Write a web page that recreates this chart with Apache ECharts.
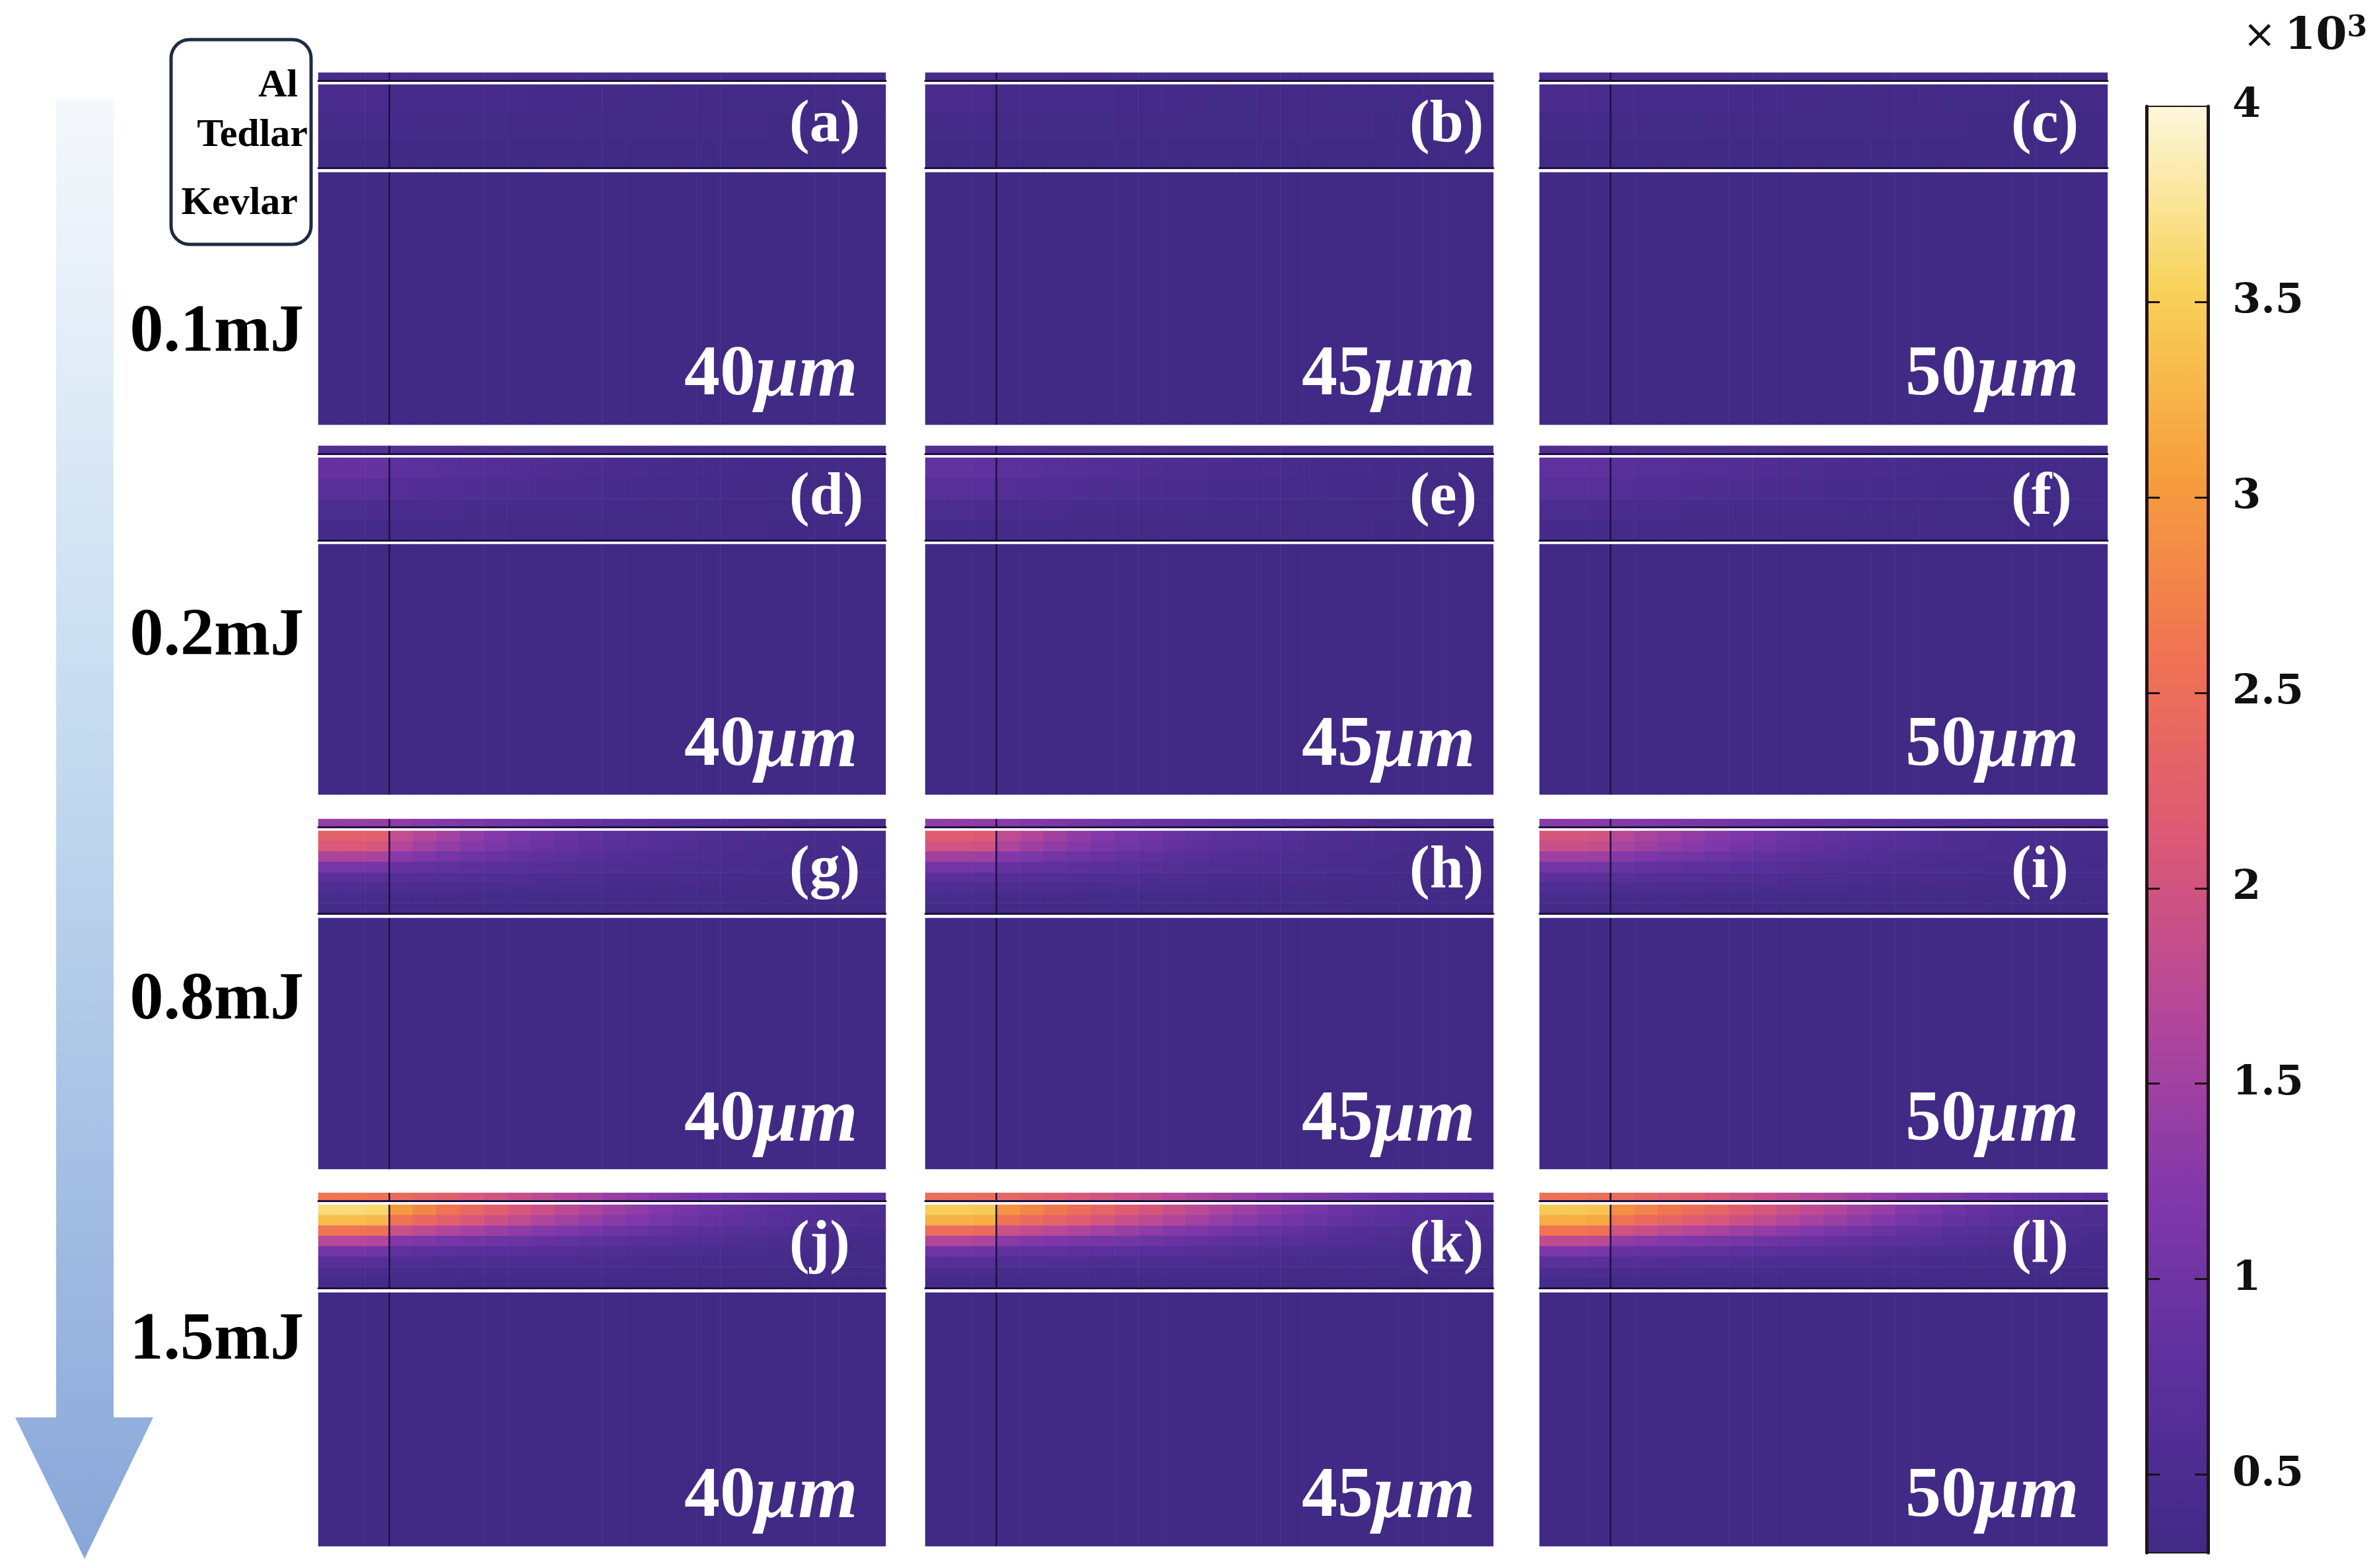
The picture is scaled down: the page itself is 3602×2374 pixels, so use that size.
<!DOCTYPE html>
<html><head><meta charset="utf-8">
<script src="https://cdn.jsdelivr.net/npm/echarts@6/dist/echarts.min.js"></script>
<style>html,body{margin:0;padding:0;background:#fff}#c{width:3602px;height:2374px}</style>
</head><body><div id="c"></div>
<script>
// ---------------- labels ----------------
const energyLabels = ['0.1mJ', '0.2mJ', '0.8mJ', '1.5mJ'];
const thicknessValues = ['40', '45', '50'];
const thicknessUnit = 'μm';
const panelLetters = ['(a)','(b)','(c)','(d)','(e)','(f)','(g)','(h)','(i)','(j)','(k)','(l)'];
const layerNames = ['Al', 'Tedlar', 'Kevlar'];
const cbMin = 0.3, cbMax = 4;               // colour scale (×10^3)
const cbTicks = [0.5, 1, 1.5, 2, 2.5, 3, 3.5];
const cbLabels = [0.5, 1, 1.5, 2, 2.5, 3, 3.5, 4];
const xCells = ['0','1','2','3','4','5','6','7','8','9','10','11','12','13','14','15','16','17','18','19','20','21','22','23'];
const spotEdge = [3];   // boundary (in cell units) of the irradiated zone, drawn as the thin dark vertical line

// ---------------- values (×10^3) ----------------
const kevlar = [0.3,0.3,0.3,0.3,0.3,0.3,0.3,0.3,0.3,0.3,0.3,0.3,0.3,0.3,0.3,0.3,0.3,0.3,0.3,0.3,0.3,0.3,0.3,0.3];

// 0.1 mJ
const al_a = [0.42,0.42,0.42,0.41,0.41,0.4,0.4,0.4,0.39,0.39,0.39,0.38,0.38,0.38,0.38,0.37,0.37,0.37,0.37,0.37,0.36,0.36,0.36,0.36];
const ted_a = [
 [0.48,0.48,0.47,0.43,0.42,0.41,0.4,0.39,0.38,0.37,0.36,0.35,0.35,0.34,0.34,0.33,0.33,0.32,0.32,0.32,0.31,0.31,0.31,0.31],
 [0.38,0.38,0.38,0.36,0.35,0.35,0.34,0.34,0.33,0.33,0.33,0.32,0.32,0.32,0.31,0.31,0.31,0.31,0.31,0.3,0.3,0.3,0.3,0.3],
 [0.3,0.3,0.3,0.3,0.3,0.3,0.3,0.3,0.3,0.3,0.3,0.3,0.3,0.3,0.3,0.3,0.3,0.3,0.3,0.3,0.3,0.3,0.3,0.3]];
const al_b = [0.41,0.41,0.41,0.4,0.4,0.4,0.39,0.39,0.39,0.38,0.38,0.38,0.38,0.37,0.37,0.37,0.37,0.37,0.36,0.36,0.36,0.36,0.36,0.36];
const ted_b = [
 [0.46,0.46,0.45,0.42,0.41,0.4,0.39,0.38,0.37,0.36,0.36,0.35,0.34,0.34,0.33,0.33,0.33,0.32,0.32,0.32,0.31,0.31,0.31,0.31],
 [0.37,0.37,0.37,0.35,0.35,0.34,0.34,0.34,0.33,0.33,0.33,0.32,0.32,0.32,0.31,0.31,0.31,0.31,0.31,0.3,0.3,0.3,0.3,0.3],
 [0.3,0.3,0.3,0.3,0.3,0.3,0.3,0.3,0.3,0.3,0.3,0.3,0.3,0.3,0.3,0.3,0.3,0.3,0.3,0.3,0.3,0.3,0.3,0.3]];
const al_c = [0.4,0.4,0.4,0.4,0.39,0.39,0.39,0.39,0.38,0.38,0.38,0.38,0.37,0.37,0.37,0.37,0.37,0.36,0.36,0.36,0.36,0.36,0.35,0.35];
const ted_c = [
 [0.45,0.45,0.44,0.41,0.4,0.39,0.38,0.38,0.37,0.36,0.36,0.35,0.34,0.34,0.33,0.33,0.33,0.32,0.32,0.32,0.31,0.31,0.31,0.31],
 [0.37,0.37,0.36,0.35,0.35,0.34,0.34,0.33,0.33,0.33,0.32,0.32,0.32,0.32,0.31,0.31,0.31,0.31,0.3,0.3,0.3,0.3,0.3,0.3],
 [0.3,0.3,0.3,0.3,0.3,0.3,0.3,0.3,0.3,0.3,0.3,0.3,0.3,0.3,0.3,0.3,0.3,0.3,0.3,0.3,0.3,0.3,0.3,0.3]];

// 0.2 mJ
const al_d = [0.62,0.62,0.61,0.6,0.58,0.56,0.54,0.52,0.5,0.48,0.46,0.45,0.44,0.43,0.42,0.41,0.4,0.39,0.38,0.38,0.37,0.37,0.36,0.36];
const ted_d = [
 [0.9,0.9,0.88,0.78,0.74,0.7,0.66,0.62,0.58,0.55,0.52,0.49,0.47,0.45,0.43,0.41,0.4,0.38,0.37,0.36,0.35,0.34,0.33,0.33],
 [0.72,0.72,0.7,0.63,0.6,0.58,0.55,0.52,0.5,0.48,0.46,0.44,0.42,0.41,0.39,0.38,0.37,0.36,0.35,0.34,0.33,0.33,0.32,0.32],
 [0.5,0.5,0.49,0.46,0.45,0.44,0.43,0.42,0.41,0.4,0.39,0.38,0.37,0.36,0.35,0.35,0.34,0.33,0.33,0.32,0.32,0.31,0.31,0.31],
 [0.36,0.36,0.36,0.35,0.35,0.34,0.34,0.34,0.33,0.33,0.33,0.32,0.32,0.32,0.32,0.31,0.31,0.31,0.31,0.3,0.3,0.3,0.3,0.3]];
const al_e = [0.58,0.58,0.57,0.56,0.55,0.53,0.52,0.5,0.49,0.47,0.46,0.45,0.44,0.43,0.42,0.41,0.4,0.39,0.39,0.38,0.37,0.37,0.36,0.36];
const ted_e = [
 [0.85,0.85,0.83,0.75,0.72,0.68,0.65,0.61,0.58,0.55,0.52,0.5,0.48,0.46,0.44,0.42,0.4,0.39,0.38,0.37,0.36,0.35,0.34,0.33],
 [0.7,0.7,0.68,0.62,0.6,0.57,0.55,0.52,0.5,0.48,0.46,0.44,0.43,0.41,0.4,0.39,0.38,0.37,0.36,0.35,0.34,0.33,0.33,0.32],
 [0.5,0.5,0.49,0.46,0.45,0.44,0.43,0.42,0.41,0.4,0.39,0.38,0.37,0.36,0.36,0.35,0.34,0.34,0.33,0.33,0.32,0.32,0.31,0.31],
 [0.36,0.36,0.36,0.35,0.35,0.34,0.34,0.34,0.33,0.33,0.33,0.32,0.32,0.32,0.32,0.31,0.31,0.31,0.31,0.3,0.3,0.3,0.3,0.3]];
const al_f = [0.55,0.55,0.55,0.54,0.53,0.52,0.51,0.5,0.49,0.48,0.47,0.46,0.45,0.44,0.43,0.42,0.41,0.4,0.4,0.39,0.38,0.38,0.37,0.37];
const ted_f = [
 [0.82,0.82,0.8,0.73,0.7,0.67,0.64,0.61,0.58,0.55,0.53,0.5,0.48,0.46,0.44,0.43,0.41,0.4,0.39,0.38,0.37,0.36,0.35,0.34],
 [0.68,0.68,0.67,0.61,0.59,0.57,0.55,0.53,0.51,0.49,0.47,0.45,0.43,0.42,0.4,0.39,0.38,0.37,0.36,0.35,0.34,0.34,0.33,0.33],
 [0.5,0.5,0.49,0.46,0.45,0.44,0.43,0.42,0.41,0.4,0.39,0.38,0.38,0.37,0.36,0.35,0.35,0.34,0.34,0.33,0.33,0.32,0.32,0.31],
 [0.37,0.37,0.37,0.36,0.35,0.35,0.35,0.34,0.34,0.34,0.33,0.33,0.33,0.32,0.32,0.32,0.31,0.31,0.31,0.31,0.3,0.3,0.3,0.3]];

// 0.8 mJ
const al_g = [1.4,1.4,1.38,1.33,1.27,1.21,1.15,1.09,1.03,0.97,0.91,0.86,0.81,0.76,0.72,0.68,0.64,0.61,0.58,0.55,0.53,0.51,0.49,0.47];
const ted_g = [
 [2.3,2.3,2.25,1.85,1.68,1.52,1.37,1.24,1.12,1.01,0.92,0.84,0.77,0.71,0.66,0.61,0.57,0.53,0.5,0.47,0.45,0.43,0.41,0.4],
 [2.1,2.1,2.05,1.65,1.5,1.37,1.25,1.14,1.03,0.94,0.86,0.79,0.73,0.67,0.62,0.58,0.54,0.51,0.48,0.46,0.43,0.41,0.4,0.38],
 [1.6,1.6,1.56,1.27,1.17,1.08,1.0,0.93,0.86,0.8,0.74,0.69,0.64,0.6,0.56,0.53,0.5,0.47,0.45,0.43,0.41,0.39,0.38,0.37],
 [1.1,1.1,1.08,0.9,0.85,0.81,0.77,0.73,0.69,0.65,0.61,0.58,0.55,0.52,0.5,0.48,0.46,0.44,0.42,0.4,0.39,0.38,0.37,0.36],
 [0.75,0.75,0.74,0.65,0.63,0.61,0.59,0.57,0.55,0.53,0.51,0.49,0.47,0.46,0.44,0.43,0.42,0.4,0.39,0.38,0.37,0.36,0.35,0.34],
 [0.55,0.55,0.54,0.5,0.49,0.48,0.47,0.46,0.45,0.44,0.43,0.42,0.41,0.4,0.39,0.38,0.37,0.37,0.36,0.35,0.34,0.34,0.33,0.33],
 [0.42,0.42,0.42,0.4,0.4,0.39,0.39,0.38,0.38,0.37,0.37,0.36,0.36,0.35,0.35,0.34,0.34,0.33,0.33,0.33,0.32,0.32,0.32,0.31],
 [0.34,0.34,0.34,0.33,0.33,0.33,0.33,0.32,0.32,0.32,0.32,0.32,0.31,0.31,0.31,0.31,0.31,0.31,0.3,0.3,0.3,0.3,0.3,0.3]];
const al_h = [1.35,1.35,1.33,1.28,1.22,1.16,1.1,1.04,0.98,0.93,0.88,0.83,0.78,0.74,0.7,0.66,0.62,0.59,0.56,0.54,0.52,0.5,0.48,0.46];
const ted_h = [
 [2.2,2.2,2.15,1.8,1.65,1.5,1.36,1.24,1.12,1.02,0.93,0.85,0.78,0.72,0.67,0.62,0.57,0.53,0.5,0.47,0.45,0.43,0.41,0.4],
 [2.0,2.0,1.96,1.62,1.48,1.36,1.24,1.13,1.03,0.94,0.86,0.79,0.73,0.67,0.62,0.58,0.54,0.51,0.48,0.46,0.43,0.41,0.4,0.38],
 [1.5,1.5,1.47,1.23,1.14,1.06,0.99,0.92,0.85,0.79,0.73,0.68,0.64,0.6,0.56,0.53,0.5,0.47,0.45,0.43,0.41,0.39,0.38,0.37],
 [1.05,1.05,1.03,0.88,0.84,0.8,0.76,0.72,0.68,0.65,0.61,0.58,0.55,0.52,0.5,0.48,0.46,0.44,0.42,0.4,0.39,0.38,0.37,0.36],
 [0.74,0.74,0.73,0.65,0.63,0.61,0.59,0.57,0.55,0.53,0.51,0.49,0.47,0.46,0.44,0.43,0.42,0.4,0.39,0.38,0.37,0.36,0.35,0.34],
 [0.55,0.55,0.54,0.5,0.49,0.48,0.47,0.46,0.45,0.44,0.43,0.42,0.41,0.4,0.39,0.38,0.37,0.37,0.36,0.35,0.34,0.34,0.33,0.33],
 [0.42,0.42,0.42,0.4,0.4,0.39,0.39,0.38,0.38,0.37,0.37,0.36,0.36,0.35,0.35,0.34,0.34,0.33,0.33,0.33,0.32,0.32,0.32,0.31],
 [0.34,0.34,0.34,0.33,0.33,0.33,0.33,0.32,0.32,0.32,0.32,0.32,0.31,0.31,0.31,0.31,0.31,0.31,0.3,0.3,0.3,0.3,0.3,0.3]];
const al_i = [1.3,1.3,1.28,1.25,1.21,1.17,1.12,1.07,1.02,0.98,0.94,0.9,0.86,0.82,0.78,0.74,0.7,0.67,0.64,0.62,0.6,0.58,0.56,0.55];
const ted_i = [
 [2.05,2.05,2.0,1.72,1.6,1.48,1.37,1.27,1.17,1.07,0.98,0.9,0.83,0.76,0.7,0.65,0.6,0.56,0.52,0.49,0.46,0.44,0.42,0.4],
 [1.9,1.9,1.86,1.58,1.47,1.37,1.27,1.17,1.08,0.99,0.91,0.84,0.77,0.71,0.66,0.61,0.57,0.53,0.5,0.47,0.45,0.43,0.41,0.39],
 [1.48,1.48,1.45,1.25,1.17,1.1,1.03,0.96,0.89,0.83,0.77,0.72,0.67,0.62,0.58,0.54,0.51,0.48,0.46,0.44,0.42,0.4,0.39,0.38],
 [1.05,1.05,1.03,0.91,0.87,0.83,0.79,0.75,0.71,0.67,0.63,0.6,0.57,0.54,0.51,0.49,0.47,0.45,0.43,0.41,0.4,0.39,0.38,0.37],
 [0.76,0.76,0.75,0.68,0.66,0.64,0.62,0.6,0.58,0.56,0.54,0.52,0.5,0.48,0.46,0.44,0.43,0.42,0.4,0.39,0.38,0.37,0.36,0.35],
 [0.56,0.56,0.55,0.51,0.5,0.49,0.48,0.47,0.46,0.45,0.44,0.43,0.42,0.41,0.4,0.39,0.38,0.37,0.37,0.36,0.35,0.34,0.34,0.33],
 [0.43,0.43,0.43,0.41,0.4,0.4,0.39,0.39,0.38,0.38,0.37,0.37,0.36,0.36,0.35,0.35,0.34,0.34,0.33,0.33,0.33,0.32,0.32,0.32],
 [0.35,0.35,0.35,0.34,0.34,0.34,0.33,0.33,0.33,0.33,0.32,0.32,0.32,0.32,0.31,0.31,0.31,0.31,0.31,0.3,0.3,0.3,0.3,0.3]];

// 1.5 mJ
const al_j = [2.6,2.6,2.55,2.45,2.34,2.23,2.12,2.0,1.88,1.76,1.64,1.53,1.42,1.32,1.22,1.13,1.05,0.98,0.92,0.87,0.82,0.78,0.74,0.7];
const ted_j = [
 [3.65,3.65,3.6,3.0,2.8,2.6,2.42,2.25,2.08,1.92,1.77,1.62,1.48,1.35,1.22,1.1,0.99,0.89,0.8,0.72,0.65,0.59,0.54,0.5],
 [3.35,3.35,3.3,2.6,2.42,2.25,2.09,1.94,1.8,1.66,1.53,1.41,1.3,1.19,1.09,0.99,0.9,0.82,0.74,0.67,0.61,0.56,0.51,0.47],
 [2.6,2.6,2.55,1.9,1.78,1.66,1.55,1.45,1.35,1.26,1.17,1.08,1.0,0.93,0.86,0.79,0.73,0.67,0.62,0.57,0.53,0.49,0.45,0.42],
 [1.7,1.7,1.65,1.22,1.16,1.1,1.05,1.0,0.95,0.9,0.85,0.8,0.75,0.71,0.67,0.63,0.59,0.55,0.52,0.48,0.45,0.42,0.4,0.38],
 [1.05,1.05,1.02,0.8,0.77,0.75,0.73,0.71,0.69,0.66,0.63,0.6,0.57,0.55,0.52,0.5,0.48,0.46,0.44,0.42,0.4,0.38,0.36,0.35],
 [0.68,0.68,0.66,0.56,0.55,0.54,0.53,0.52,0.51,0.5,0.48,0.46,0.45,0.44,0.43,0.42,0.41,0.4,0.39,0.38,0.36,0.35,0.34,0.33],
 [0.48,0.48,0.47,0.42,0.42,0.41,0.41,0.4,0.4,0.39,0.39,0.38,0.38,0.37,0.37,0.36,0.36,0.35,0.35,0.34,0.33,0.33,0.32,0.32],
 [0.36,0.36,0.36,0.34,0.34,0.34,0.33,0.33,0.33,0.33,0.32,0.32,0.32,0.32,0.32,0.31,0.31,0.31,0.31,0.31,0.3,0.3,0.3,0.3]];
const al_k = [2.5,2.5,2.46,2.38,2.29,2.2,2.1,2.0,1.9,1.8,1.7,1.6,1.5,1.4,1.3,1.21,1.12,1.04,0.97,0.91,0.85,0.8,0.75,0.7];
const ted_k = [
 [3.5,3.5,3.45,2.95,2.8,2.65,2.5,2.35,2.2,2.05,1.9,1.75,1.6,1.46,1.33,1.2,1.08,0.97,0.87,0.78,0.7,0.63,0.57,0.52],
 [3.25,3.25,3.2,2.6,2.46,2.32,2.18,2.04,1.91,1.78,1.65,1.52,1.4,1.28,1.17,1.06,0.96,0.87,0.78,0.71,0.64,0.58,0.53,0.49],
 [2.5,2.5,2.45,1.92,1.83,1.73,1.63,1.53,1.43,1.34,1.25,1.16,1.07,0.99,0.91,0.84,0.77,0.7,0.64,0.59,0.54,0.5,0.47,0.44],
 [1.65,1.65,1.6,1.28,1.23,1.18,1.13,1.08,1.03,0.98,0.93,0.88,0.83,0.78,0.73,0.68,0.63,0.59,0.55,0.51,0.48,0.45,0.42,0.4],
 [1.02,1.02,1.0,0.84,0.82,0.8,0.78,0.76,0.74,0.71,0.68,0.65,0.62,0.59,0.56,0.53,0.5,0.48,0.46,0.44,0.42,0.4,0.38,0.36],
 [0.66,0.66,0.65,0.58,0.57,0.56,0.55,0.54,0.53,0.52,0.5,0.49,0.47,0.46,0.44,0.43,0.42,0.41,0.4,0.38,0.37,0.36,0.35,0.34],
 [0.47,0.47,0.46,0.43,0.43,0.42,0.42,0.41,0.41,0.4,0.4,0.39,0.39,0.38,0.37,0.37,0.36,0.36,0.35,0.34,0.34,0.33,0.33,0.32],
 [0.36,0.36,0.36,0.35,0.35,0.34,0.34,0.34,0.33,0.33,0.33,0.32,0.32,0.32,0.32,0.31,0.31,0.31,0.31,0.31,0.3,0.3,0.3,0.3]];
const al_l = [2.55,2.55,2.5,2.43,2.35,2.26,2.17,2.07,1.97,1.87,1.77,1.67,1.57,1.47,1.37,1.27,1.18,1.09,1.01,0.94,0.87,0.81,0.76,0.71];
const ted_l = [
 [3.45,3.45,3.4,2.9,2.77,2.63,2.49,2.35,2.21,2.07,1.93,1.79,1.65,1.51,1.38,1.25,1.12,1.0,0.9,0.8,0.71,0.64,0.58,0.53],
 [3.2,3.2,3.15,2.58,2.46,2.33,2.2,2.07,1.94,1.81,1.68,1.56,1.44,1.32,1.2,1.09,0.99,0.89,0.8,0.72,0.65,0.59,0.54,0.5],
 [2.6,2.6,2.55,1.97,1.88,1.78,1.68,1.58,1.48,1.39,1.3,1.21,1.12,1.03,0.95,0.87,0.8,0.73,0.67,0.61,0.56,0.52,0.48,0.45],
 [1.8,1.8,1.75,1.36,1.3,1.24,1.18,1.12,1.07,1.02,0.97,0.92,0.87,0.82,0.77,0.72,0.67,0.62,0.58,0.54,0.5,0.47,0.44,0.41],
 [1.15,1.15,1.12,0.9,0.88,0.86,0.84,0.81,0.78,0.75,0.72,0.69,0.66,0.62,0.59,0.56,0.53,0.5,0.48,0.46,0.43,0.41,0.39,0.37],
 [0.74,0.74,0.72,0.62,0.61,0.6,0.59,0.57,0.56,0.54,0.53,0.51,0.5,0.48,0.46,0.45,0.43,0.42,0.41,0.39,0.38,0.37,0.36,0.35],
 [0.5,0.5,0.49,0.45,0.45,0.44,0.44,0.43,0.42,0.42,0.41,0.4,0.4,0.39,0.38,0.38,0.37,0.36,0.36,0.35,0.34,0.34,0.33,0.33],
 [0.38,0.38,0.37,0.36,0.36,0.35,0.35,0.35,0.34,0.34,0.34,0.33,0.33,0.33,0.32,0.32,0.32,0.32,0.31,0.31,0.31,0.3,0.3,0.3]];

const panels = [
  {al: al_a, ted: ted_a}, {al: al_b, ted: ted_b}, {al: al_c, ted: ted_c},
  {al: al_d, ted: ted_d}, {al: al_e, ted: ted_e}, {al: al_f, ted: ted_f},
  {al: al_g, ted: ted_g}, {al: al_h, ted: ted_h}, {al: al_i, ted: ted_i},
  {al: al_j, ted: ted_j}, {al: al_k, ted: ted_k}, {al: al_l, ted: ted_l}
];

// ---------------- layout ----------------
const colX = [[482, 1341], [1401, 2261], [2331, 3191]];
const rowY = [[110, 643], [675, 1203], [1240, 1770], [1806, 2341]];
const letterX = [1195, 2134, 3045];
const thickX = [1036, 1971, 2885];
const energyY = [505, 965, 1516, 2031];
const cmap = ['#412a86', '#5b309c', '#8238aa', '#b5479a', '#de5a74', '#f07451', '#f6a03d', '#f7d25a', '#fdf8dc'];
const lineDark = '#1d1140';
const serif = '"Liberation Serif", "Times New Roman", serif';

const grids = [], xAxes = [], yAxes = [], series = [], heatIdx = [];
const graphics = [];

function toCells(mat) {
  const out = [];
  mat.forEach((row, y) => row.forEach((v, x) => out.push([x, y, v])));
  return out;
}

panels.forEach((p, idx) => {
  const r = Math.floor(idx / 3), c = idx % 3;
  const L = colX[c][0], W = colX[c][1] - colX[c][0];
  const T = rowY[r][0], H = rowY[r][1] - rowY[r][0];
  const layers = [
    {top: T, h: Math.round(0.022 * H), mat: [p.al], line: true},
    {top: T + Math.round(0.034 * H), h: Math.round(0.236 * H), mat: p.ted, line: true},
    {top: T + Math.round(0.283 * H), h: H - Math.round(0.283 * H), mat: [kevlar], line: false}
  ];
  layers.forEach(ly => {
    const g = grids.length;
    grids.push({left: L, top: ly.top, width: W, height: ly.h});
    const xi = xAxes.length;
    xAxes.push({
      type: 'category', gridIndex: g, data: xCells, boundaryGap: true, z: 20, position: 'bottom',
      axisLabel: {show: false}, axisTick: {show: false},
      axisLine: {show: ly.line, onZero: false, lineStyle: {color: lineDark, width: 3}},
      splitLine: {show: false}
    });
    // helper value axis: its single inside tick, as long as the layer is tall, is the vertical boundary line
    xAxes.push({
      type: 'value', gridIndex: g, min: 0, max: xCells.length, position: 'top', z: 20,
      axisLine: {show: false}, axisLabel: {show: false}, splitLine: {show: false},
      axisTick: {show: true, inside: true, length: ly.h, customValues: spotEdge,
        lineStyle: {color: lineDark, width: 2.5}}
    });
    const yi = yAxes.length;
    yAxes.push({
      type: 'category', gridIndex: g, inverse: true, show: false,
      data: ly.mat.map((_, k) => String(k))
    });
    heatIdx.push(series.length);
    series.push({
      type: 'heatmap', xAxisIndex: xi, yAxisIndex: yi, data: toCells(ly.mat), z: 1,
      silent: true, emphasis: {disabled: true}, progressive: 0
    });
  });
  // panel letter
  graphics.push({
    type: 'text', x: letterX[c], y: T + 0.15 * H, z: 100,
    style: {text: panelLetters[idx], fill: '#ffffff', font: 'bold 92px ' + serif,
      align: 'left', verticalAlign: 'middle', textAlign: 'left', textVerticalAlign: 'middle'}
  });
  // thickness label
  graphics.push({
    type: 'text', x: thickX[c], y: T + 0.862 * H, z: 100,
    style: {
      text: '{n|' + thicknessValues[c] + '}{u|' + thicknessUnit + '}',
      align: 'left', verticalAlign: 'middle', textAlign: 'left', textVerticalAlign: 'middle',
      rich: {
        n: {fill: '#ffffff', fontFamily: serif, fontWeight: 'bold', fontSize: 108},
        u: {fill: '#ffffff', fontFamily: serif, fontWeight: 'bold', fontStyle: 'italic', fontSize: 116}
      }
    }
  });
});

// ---- colour bar axes (ticks / labels / frame) ----
const cbL = 3250, cbT = 161, cbW = 93, cbH = 2190;
const cg = grids.length;
grids.push({left: cbL, top: cbT, width: cbW, height: cbH});
xAxes.push({type: 'value', gridIndex: cg, min: 0, max: 1, position: 'top', z: 10,
  axisLine: {show: true, onZero: false, lineStyle: {color: '#231418', width: 2}},
  axisTick: {show: false}, axisLabel: {show: false}, splitLine: {show: false}});
xAxes.push({type: 'value', gridIndex: cg, min: 0, max: 1, position: 'bottom', z: 10,
  axisLine: {show: true, onZero: false, lineStyle: {color: '#231418', width: 2}},
  axisTick: {show: false}, axisLabel: {show: false}, splitLine: {show: false}});
yAxes.push({type: 'value', gridIndex: cg, min: cbMin, max: cbMax, position: 'left', z: 10,
  axisLine: {show: true, onZero: false, lineStyle: {color: '#231418', width: 5}},
  axisTick: {show: true, inside: true, length: 20, customValues: cbTicks, lineStyle: {color: '#1a1012', width: 3}},
  axisLabel: {show: false}, splitLine: {show: false}});
yAxes.push({type: 'value', gridIndex: cg, min: cbMin, max: cbMax, position: 'right', z: 10,
  axisLine: {show: true, onZero: false, lineStyle: {color: '#231418', width: 5}},
  axisTick: {show: true, inside: true, length: 20, customValues: cbTicks, lineStyle: {color: '#1a1012', width: 3}},
  axisLabel: {show: true, customValues: cbLabels, margin: 37, color: '#111111',
    fontFamily: '"DejaVu Serif", serif', fontWeight: 'bold', fontSize: 62,
    formatter: (v) => String(v)},
  splitLine: {show: false}});

// ---- decorations ----
graphics.push({
  type: 'polygon', z: 1,
  shape: {points: [[85, 150], [172, 150], [172, 2146], [232, 2146], [128, 2360], [23, 2146], [85, 2146]]},
  style: {fill: new echarts.graphic.LinearGradient(0, 0, 0, 1, [
    {offset: 0, color: '#f5f8fc'}, {offset: 0.45, color: '#c3daef'}, {offset: 1, color: '#88a6d9'}])}
});
energyLabels.forEach((t, i) => graphics.push({
  type: 'text', x: 460, y: energyY[i], z: 100,
  style: {text: t, fill: '#000000', font: 'bold 102px ' + serif,
    align: 'right', verticalAlign: 'middle', textAlign: 'right', textVerticalAlign: 'middle'}
}));
graphics.push({
  type: 'rect', z: 100, shape: {x: 259, y: 60, width: 212, height: 310, r: 28},
  style: {fill: '#ffffff', stroke: '#1f2b45', lineWidth: 5}
});
const legendTextPos = [[451, 130], [466, 205], [451, 308]];
layerNames.forEach((t, i) => graphics.push({
  type: 'text', x: legendTextPos[i][0], y: legendTextPos[i][1], z: 101,
  style: {text: t, fill: '#000000', font: 'bold 60px ' + serif,
    align: 'right', verticalAlign: 'middle', textAlign: 'right', textVerticalAlign: 'middle'}
}));
graphics.push({
  type: 'text', x: 3396, y: 56, z: 100,
  style: {
    text: '{m|×}{g| }{n|10}{s|3}',
    align: 'left', verticalAlign: 'middle', textAlign: 'left', textVerticalAlign: 'middle',
    rich: {
      m: {fill: '#111111', fontFamily: '"DejaVu Serif", serif', fontSize: 60},
      g: {fill: '#111111', fontFamily: '"DejaVu Serif", serif', fontSize: 40},
      n: {fill: '#111111', fontFamily: '"DejaVu Serif", serif', fontWeight: 'bold', fontSize: 68},
      s: {fill: '#111111', fontFamily: '"DejaVu Serif", serif', fontWeight: 'bold', fontSize: 44, verticalAlign: 'top'}
    }
  }
});

const option = {
  backgroundColor: '#ffffff',
  animation: false,
  grid: grids, xAxis: xAxes, yAxis: yAxes, series: series,
  visualMap: {
    type: 'continuous', min: cbMin, max: cbMax, calculable: false, hoverLink: false,
    orient: 'vertical', left: cbL, top: cbT, itemWidth: cbW, itemHeight: cbH, padding: 0,
    seriesIndex: heatIdx, inRange: {color: cmap}
  },
  graphic: {elements: graphics}
};
const chart = echarts.init(document.getElementById('c'), null, {renderer: 'canvas'});
chart.setOption(option);
</script></body></html>
